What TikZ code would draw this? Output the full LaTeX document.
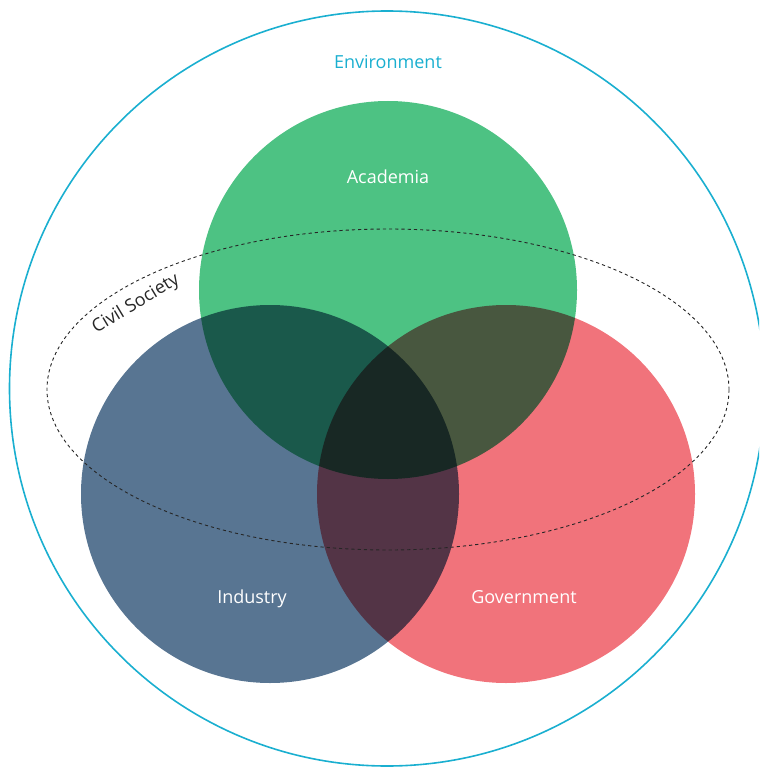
\documentclass[tikz,border=0pt]{standalone}
\usepackage{fontspec}
\setmainfont{Open Sans}
\definecolor{envblue}{HTML}{1AAFD0}
\definecolor{acagreen}{HTML}{4DC283}
\definecolor{indblue}{HTML}{587592}
\definecolor{govred}{HTML}{F1737B}
\begin{document}
\begin{tikzpicture}[x=1pt,y=-1pt,
  label/.style={font=\fontsize{18}{21}\selectfont, text=white, inner sep=0pt, anchor=base}]
  \useasboundingbox (0,0) rectangle (759,767);
  \clip (0,0) rectangle (759,767);
  % outer environment circle
  \draw[envblue, line width=1.6pt] (387,388.5) circle[radius=377.5];
  \node[label, text=envblue] (env) at (388,69) {Environment};
  % three sectors, multiplied where they overlap
  \begin{scope}[blend group=multiply]
    \fill[acagreen] (388,290) circle[radius=189];
    \fill[indblue] (270,494) circle[radius=189];
    \fill[govred] (506,494) circle[radius=189];
  \end{scope}
  \node[label] (lacad) at (388,184) {Academia};
  \node[label] (lind) at (252,603) {Industry};
  \node[label] (lgov) at (524,603) {Government};
  % civil society boundary
  \draw[black!85, dash pattern=on 3.2pt off 3pt, line width=0.9pt] (388,389.5) ellipse[x radius=341, y radius=160.5];
  \node[font=\fontsize{18}{21}\selectfont, text=black!85, rotate=31, inner sep=0pt] (civ) at (136,304) {Civil Society};
\end{tikzpicture}
\end{document}
